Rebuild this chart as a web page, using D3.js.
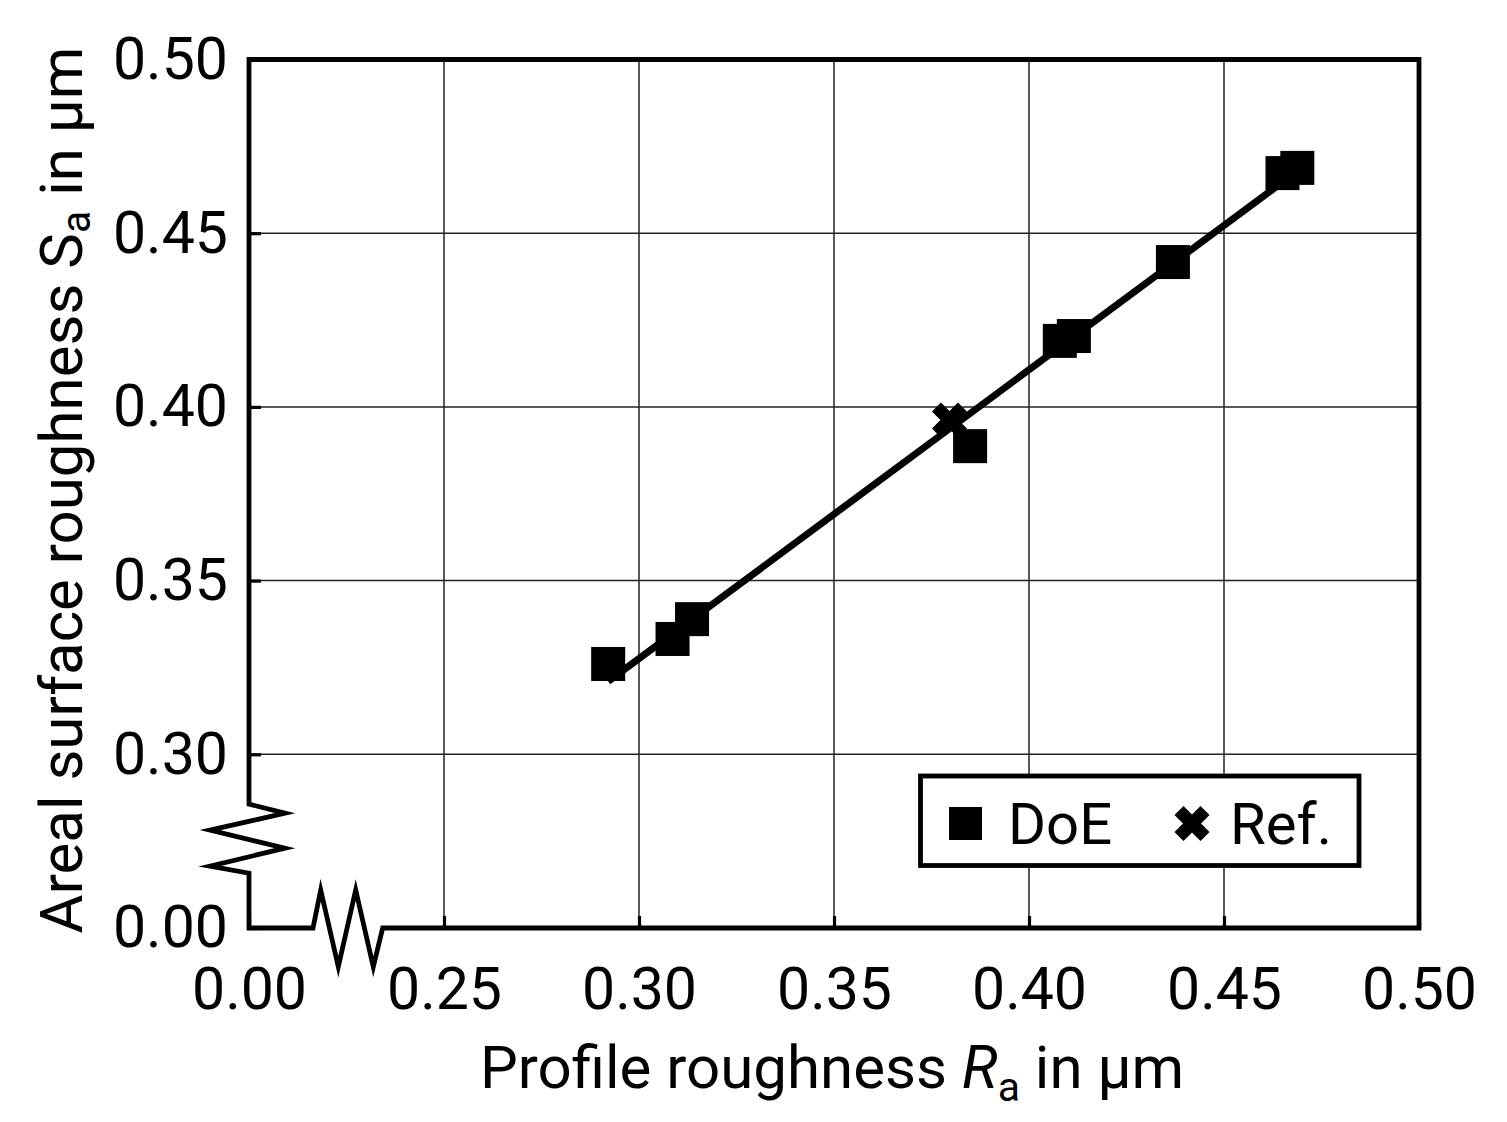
<!DOCTYPE html>
<html>
<head>
<meta charset="utf-8">
<script src="https://cdn.jsdelivr.net/npm/d3@7"></script>
<style>
  html, body { margin: 0; padding: 0; background: #fff; }
  svg text { font-family: Roboto, "Noto Sans", sans-serif; fill: #000; }
</style>
</head>
<body>
<svg id="chart" width="1507" height="1122"></svg>
<script>
// ---- data ----
const doeRa = [0.2921, 0.3086, 0.3136, 0.3849, 0.4079, 0.4115, 0.4369, 0.4650, 0.4688];
const doeSa = [0.3260, 0.3332, 0.3389, 0.3887, 0.4190, 0.4204, 0.4417, 0.4673, 0.4688];
const refRa = [0.3796];
const refSa = [0.3962];
const xTicks = [0.00, 0.25, 0.30, 0.35, 0.40, 0.45, 0.50];
const yTicks = [0.00, 0.30, 0.35, 0.40, 0.45, 0.50];
const xGrid = [0.25, 0.30, 0.35, 0.40, 0.45];
const yGrid = [0.30, 0.35, 0.40, 0.45];
const legendLabels = ["DoE", "Ref."];

// ---- layout ----
const L = 249, R = 1419, T = 59.5, B = 928;
const svg = d3.select("#chart");

// broken (piecewise) scales
const x = d3.scaleLinear().domain([0, 0.25, 0.50]).range([L, L + (R - L) / 6, R]);
const y = d3.scaleLinear().domain([0, 0.30, 0.50]).range([B, B - (B - T) / 5, T]);

// grid
svg.append("g").selectAll("line").data(xGrid).join("line")
  .attr("x1", d => x(d)).attr("x2", d => x(d)).attr("y1", T).attr("y2", B)
  .attr("stroke", "#222").attr("stroke-width", 1.5);
svg.append("g").selectAll("line").data(yGrid).join("line")
  .attr("x1", L).attr("x2", R).attr("y1", d => y(d)).attr("y2", d => y(d))
  .attr("stroke", "#222").attr("stroke-width", 1.5);

// axes (ticks inward)
const fmt = d3.format(".2f");
const gx = svg.append("g").attr("transform", `translate(0,${B})`)
  .call(d3.axisBottom(x).tickValues(xTicks).tickSize(-12).tickPadding(39).tickFormat(fmt));
const gy = svg.append("g").attr("transform", `translate(${L},0)`)
  .call(d3.axisLeft(y).tickValues(yTicks).tickSize(-12).tickPadding(21).tickFormat(fmt));
[gx, gy].forEach(g => {
  g.select(".domain").remove();
  g.selectAll(".tick line").attr("stroke", "#000").attr("stroke-width", 3.2);
  g.selectAll(".tick text").attr("font-size", 59).attr("font-family", "Roboto").attr("fill", "#000");
});

// frame with axis breaks
const xb = (x(0) + x(0.25)) / 2;
const yb = (y(0) + y(0.30)) / 2;
const xBreak = [[-33.5, 0], [-25.8, -38], [-8.2, 38.7], [9.2, -38], [26.8, 38.7], [36.2, 0]];
const yBreak = [[0, 32], [-39, 25], [36, 7], [-39, -11], [36, -28], [0, -37]];
const pts = [];
pts.push([L, T], [R, T], [R, B]);
xBreak.slice().reverse().forEach(([dx, dy]) => pts.push([xb + dx, B + dy]));
pts.push([L, B]);
yBreak.forEach(([dx, dy]) => pts.push([L + dx, yb + dy]));
pts.push([L, T]);
svg.append("path").attr("d", d3.line()(pts) + "Z")
  .attr("fill", "none").attr("stroke", "#000").attr("stroke-width", 4.8)
  .attr("stroke-linejoin", "miter").attr("stroke-miterlimit", 10);

// regression line through DoE points
const mx = d3.mean(doeRa), my = d3.mean(doeSa);
const slope = d3.sum(doeRa, (d, i) => (d - mx) * (doeSa[i] - my)) / d3.sum(doeRa, d => (d - mx) ** 2);
const x0 = d3.min(doeRa), x1 = d3.max(doeRa);
const fit = [[x0, my + slope * (x0 - mx)], [x1, my + slope * (x1 - mx)]];
svg.append("path")
  .attr("d", d3.line().x(d => x(d[0])).y(d => y(d[1]))(fit))
  .attr("stroke", "#000").attr("stroke-width", 7).attr("fill", "none");

// markers
const sq = 34;
const crossPath = (() => {
  const a = 17.5, w = 9; // half-extent, arm offset
  const p = [[0, -w], [a - w, -a], [a, -a + w], [w, 0], [a, a - w], [a - w, a],
             [0, w], [-a + w, a], [-a, a - w], [-w, 0], [-a, -a + w], [-a + w, -a]];
  return d3.line()(p) + "Z";
})();
svg.append("g").selectAll("rect").data(doeRa).join("rect")
  .attr("x", d => x(d) - sq / 2).attr("y", (d, i) => y(doeSa[i]) - sq / 2)
  .attr("width", sq).attr("height", sq).attr("fill", "#000");
svg.append("g").selectAll("path").data(refRa).join("path")
  .attr("transform", (d, i) => `translate(${x(d)},${y(refSa[i])})`)
  .attr("d", crossPath).attr("fill", "#000");

// legend
const lg = svg.append("g");
lg.append("rect").attr("x", 920.5).attr("y", 776).attr("width", 438.5).attr("height", 89.5)
  .attr("fill", "#fff").attr("stroke", "#000").attr("stroke-width", 4.8);
lg.append("rect").attr("x", 949).attr("y", 807).attr("width", 33).attr("height", 33).attr("fill", "#000");
lg.append("text").attr("x", 1008).attr("y", 844).attr("font-size", 58).text(legendLabels[0]);
lg.append("path").attr("transform", "translate(1192,823.5)").attr("d", crossPath).attr("fill", "#000");
lg.append("text").attr("x", 1230).attr("y", 844).attr("font-size", 58).text(legendLabels[1]);

// axis titles
const xt = svg.append("text").attr("x", 832).attr("y", 1088).attr("text-anchor", "middle").attr("font-size", 60);
xt.append("tspan").text("Profile roughness ");
xt.append("tspan").attr("font-style", "italic").text("R");
xt.append("tspan").attr("font-size", 41).attr("dy", 13).text("a");
xt.append("tspan").attr("dy", -13).text(" in µm");

const yt = svg.append("text").attr("transform", "translate(82,490) rotate(-90)")
  .attr("text-anchor", "middle").attr("font-size", 60);
yt.append("tspan").text("Areal surface roughness S");
yt.append("tspan").attr("font-size", 41).attr("dy", 8).text("a");
yt.append("tspan").attr("dy", -8).text(" in µm");
</script>
</body>
</html>
